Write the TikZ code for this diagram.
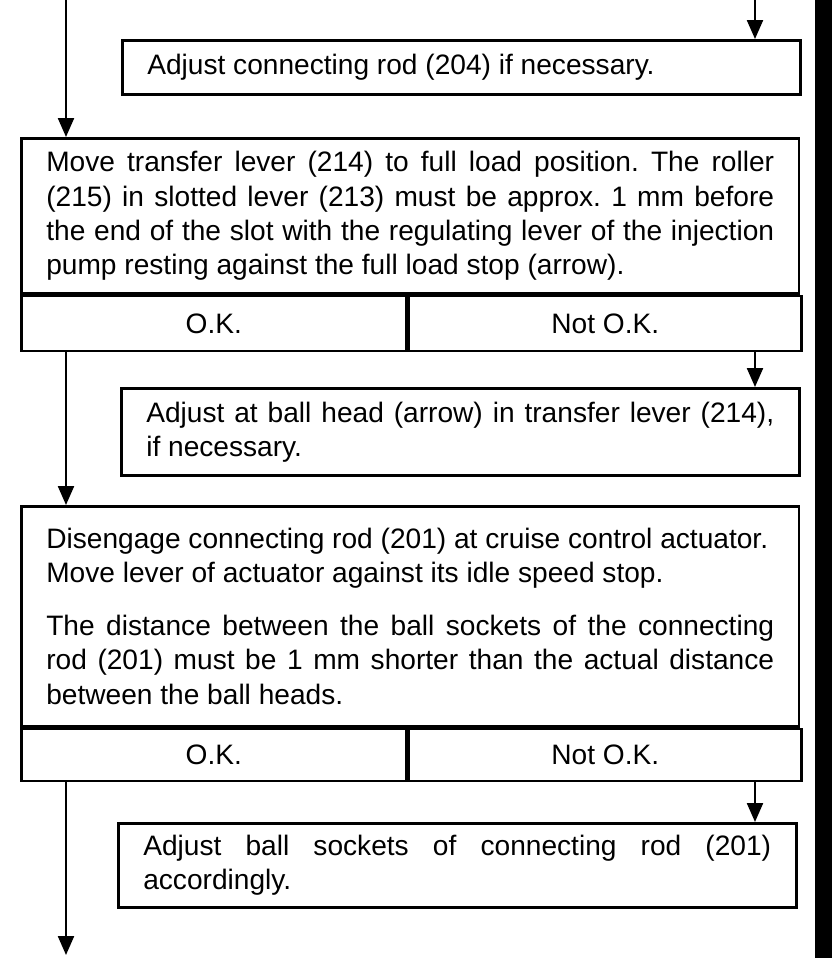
\documentclass[tikz,border=0pt]{standalone}
\usepackage{fontspec}
\setmainfont{Liberation Sans}
\usepackage{tikz}
\usetikzlibrary{arrows.meta,positioning}
\tolerance=10000
\frenchspacing

\begin{document}
\begin{tikzpicture}[
    x=0.02cm, y=-0.02cm,
    box/.style={draw, line width=1.5pt, anchor=north west, align=justify,
      inner xsep=5mm, inner ysep=0pt, font=\fontsize{16pt}{19.4pt}\selectfont},
    bigbox/.style={box, text width=14.56cm},
    smallbox/.style={box, text width=12.56cm},
    cell/.style={draw, line width=1.5pt, anchor=north west, align=center,
      inner sep=0pt, font=\fontsize{16pt}{19.4pt}\selectfont},
    flow/.style={-{Triangle[length=3.8mm,width=3.2mm]}, line width=1.3pt}
  ]
    \useasboundingbox (0,0) rectangle (832,958);
    \fill (815,0) rectangle (832,958);

    \coordinate (inL) at (66,0);
    \coordinate (inR) at (755,0);
    \coordinate (outL) at (66,955);

    \node[smallbox, minimum height=10.8mm] (adj1) at (121,39)
      {Adjust connecting rod (204) if necessary.};
    \node[bigbox, minimum height=31mm] (chk1) at (20,137)
      {Move transfer lever (214) to full load position. The roller\linebreak
       (215) in slotted lever (213) must be approx. 1 mm before\linebreak
       the end of the slot with the regulating lever of the injection\linebreak
       pump resting against the full load stop (arrow).};
    \node[cell, minimum width=7.70cm, minimum height=11mm] (ok1) at (chk1.south west) {O.K.};
    \node[cell, minimum width=7.86cm, minimum height=11mm, right=0pt of ok1] (nok1) {Not O.K.};
    \node[smallbox, minimum height=17.4mm] (adj2) at (120,387)
      {Adjust at ball head (arrow) in transfer lever (214),\linebreak
       if necessary.};
    \node[bigbox, minimum height=44mm] (chk2) at (20,505)
      {Disengage connecting rod (201) at cruise control actuator.\\
       Move lever of actuator against its idle speed stop.\\[3.8mm]
       The distance between the ball sockets of the connecting\linebreak
       rod (201) must be 1 mm shorter than the actual distance\linebreak
       between the ball heads.};
    \node[cell, minimum width=7.70cm, minimum height=10.4mm] (ok2) at (chk2.south west) {O.K.};
    \node[cell, minimum width=7.86cm, minimum height=10.4mm, right=0pt of ok2] (nok2) {Not O.K.};
    \node[smallbox, minimum height=16.8mm] (adj3) at (117,822)
      {Adjust ball sockets of connecting rod (201)\linebreak
       accordingly.};

    \draw[flow] (inL) -- (inL |- chk1.north);
    \draw[flow] (ok1.south -| inL) -- (chk2.north -| inL);
    \draw[flow] (ok2.south -| inL) -- (outL);
    \draw[flow] (inR) -- (adj1.north -| inR);
    \draw[flow] (nok1.south -| inR) -- (adj2.north -| inR);
    \draw[flow] (nok2.south -| inR) -- (adj3.north -| inR);
  \end{tikzpicture}
\end{document}
